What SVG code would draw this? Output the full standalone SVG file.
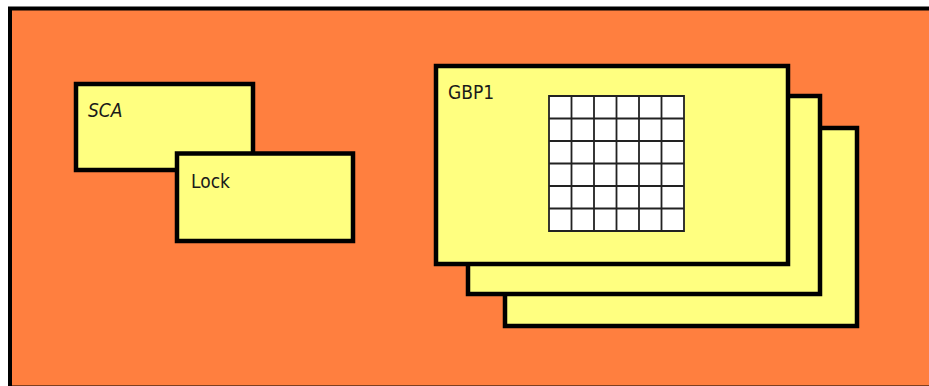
<svg xmlns="http://www.w3.org/2000/svg" width="929" height="386" viewBox="0 0 929 386">
<style>
.box{fill:#FFFF80;stroke:#000;stroke-width:4.5}
.lbl{font-family:"Comic Sans MS","DejaVu Sans Condensed","DejaVu Sans",sans-serif;font-size:19px;fill:#1a1a1a}
.grid{fill:none;stroke:#222;stroke-width:1.8}
</style>
<rect width="929" height="386" fill="#fff"/>
<g id="frame">
<rect x="10" y="8.5" width="930" height="379" fill="#FF7F3F" stroke="#000" stroke-width="4"/>
</g>
<g id="SCA">
<rect class="box" x="76" y="84" width="177" height="86"/>
<text class="lbl" x="88" y="117" font-style="italic">SCA</text>
</g>
<g id="Lock">
<rect class="box" x="177" y="153.5" width="176" height="87.5"/>
<text class="lbl" x="191" y="188">Lock</text>
</g>
<g id="GBP3">
<rect class="box" x="505" y="128" width="352" height="198"/>
</g>
<g id="GBP2">
<rect class="box" x="468" y="96" width="352" height="198"/>
</g>
<g id="GBP1">
<rect class="box" x="436" y="66" width="352" height="198"/>
<text class="lbl" x="448" y="99">GBP1</text>
<rect x="549" y="96" width="135" height="135" fill="#fff"/>
<path class="grid" d="M549 96H684V231H549Z M571.5 96V231 M594 96V231 M616.5 96V231 M639 96V231 M661.5 96V231 M549 118.5H684 M549 141H684 M549 163.5H684 M549 186H684 M549 208.5H684"/>
</g>
<g id="connectors"/>
</svg>
